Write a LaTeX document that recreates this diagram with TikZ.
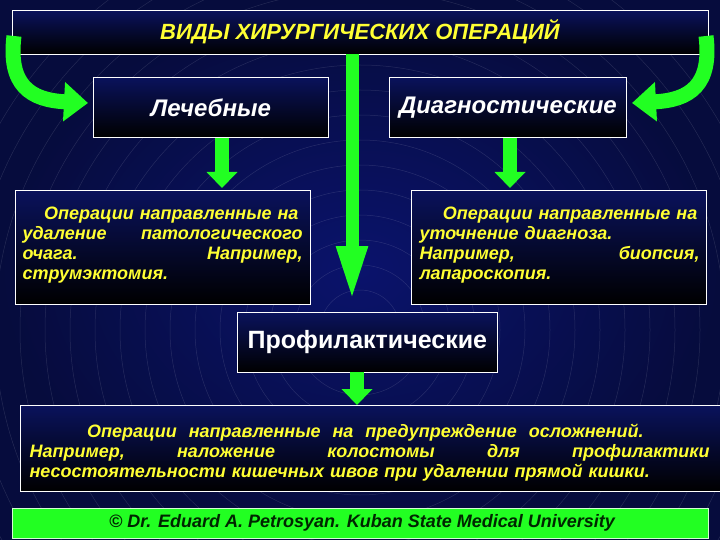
\documentclass[tikz,border=0pt]{standalone}
\usepackage{fontspec}
\setmainfont{Liberation Sans}
\usetikzlibrary{arrows.meta}
\definecolor{bg}{HTML}{0B1466}
\definecolor{gr}{HTML}{22FF22}
\definecolor{yl}{HTML}{FFFF33}
\newcommand{\jl}[1]{\leavevmode\hbox to \linewidth{#1}}
\begin{document}
\begin{tikzpicture}[x=1pt,y=-1pt,
  box/.style={draw=white,line width=0.8pt,inner sep=0pt,top color=bg!90!black,bottom color=black},
  garrow/.style={gr,line width=15pt,-{Triangle[width=38pt,length=24pt]}},
  txt/.style={font=\bfseries\itshape\fontsize{18}{20}\selectfont,text=yl,align=left}]
\useasboundingbox (0,0) rectangle (720,540);
\fill[inner color=bg!90!blue,outer color=black] (0,0) rectangle (720,540);
\fill[bg,opacity=0.6] (0,0) rectangle (720,540);
\foreach \r in {40,65,...,420} \draw[white,opacity=0.12,line width=0.5pt] (360,330) circle (\r);
% boxes
\node[box,minimum width=696pt,minimum height=44pt,anchor=north west] (title) at (12,10) {};
\node[text=yl,font=\bfseries\itshape\fontsize{22}{24}\selectfont] at (360,32) {ВИДЫ ХИРУРГИЧЕСКИХ ОПЕРАЦИЙ};
\node[box,minimum width=235pt,minimum height=60pt,anchor=north west,font=\bfseries\itshape\fontsize{24}{26}\selectfont,text=white] (lech) at (93,77) {Лечебные};
\node[box,minimum width=237pt,minimum height=60pt,anchor=north west,font=\bfseries\itshape\fontsize{24}{26}\selectfont,text=white] (diag) at (389,77) {Диагностические};
\node[box,minimum width=295pt,minimum height=114pt,anchor=north west] (ltxt) at (15,190) {};
\node[txt,anchor=north west,text width=280pt] at (19,203) {\hspace*{1.2em}Операции направленные на\\\jl{удаление\hfill патологического}\\\jl{очага.\hfill Например,}\\струмэктомия.};
\node[box,minimum width=295pt,minimum height=114pt,anchor=north west] (rtxt) at (411,190) {};
\node[txt,anchor=north west,text width=280pt] at (416,203) {\jl{\hspace*{1.3em}Операции направленные на\hss}\\уточнение диагноза.\\\jl{Например,\hfill биопсия,}\\лапароскопия.};
\node[box,minimum width=260pt,minimum height=60pt,anchor=north west,font=\bfseries\fontsize{25}{27}\selectfont,text=white] (prof) at (237,312) {Профилактические};
\node[box,minimum width=710pt,minimum height=86pt,anchor=north west] (btxt) at (20,405) {};
\node[txt,anchor=north west,text width=680pt] at (26,420) {\hspace*{3.2em}Операции\ \ направленные\ \ на\ \ предупреждение\ \ осложнений.\\\jl{Например,\hfill наложение\hfill колостомы\hfill для\hfill профилактики}\\несостоятельности кишечных швов при удалении прямой кишки.};
\node[draw=white!80!gr,line width=0.6pt,fill=gr,minimum width=696pt,minimum height=30pt,anchor=north west,inner sep=0pt] (foot) at (12,508) {};
\node[font=\bfseries\itshape\fontsize{18}{20}\selectfont,text=black!85!green] at (362,523) {© Dr. Eduard A. Petrosyan. Kuban State Medical University};
% arrows
\coordinate (c1) at (222,138); \coordinate (c1e) at (222,188);
\draw[gr,line width=14pt,-{Triangle[width=30pt,length=16pt]}] (c1) -- (c1e);
\coordinate (c2) at (510,138); \coordinate (c2e) at (510,188);
\draw[gr,line width=14pt,-{Triangle[width=30pt,length=16pt]}] (c2) -- (c2e);
\coordinate (c3) at (357,372); \coordinate (c3e) at (357,405);
\draw[gr,line width=14pt,-{Triangle[width=30pt,length=16pt]}] (c3) -- (c3e);
\coordinate (c4) at (352,54); \coordinate (c4e) at (352,302);
\draw[gr,line width=13pt,-{Triangle[width=28pt,length=56pt]}] (c4) -- (c4e);
\coordinate (l0) at (14,36); \coordinate (l1) at (88,103);
\coordinate (r0) at (706,36); \coordinate (r1) at (632,103);
\draw[garrow] (l0) .. controls (8,85) and (30,100) .. (l1);
\draw[garrow] (r0) .. controls (712,85) and (690,100) .. (r1);
\end{tikzpicture}
\end{document}
